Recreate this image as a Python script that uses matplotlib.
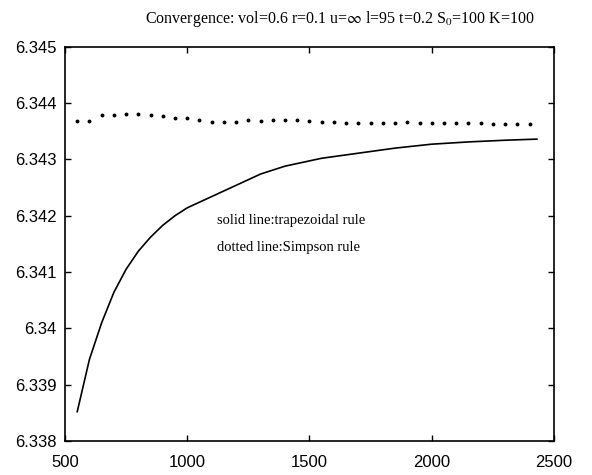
import matplotlib
matplotlib.use("Agg")
import matplotlib.pyplot as plt

# Solid line (trapezoidal rule)
n_trap = [550, 600, 650, 700, 750, 800, 850, 900, 950, 1000, 1100, 1200,
          1300, 1400, 1550, 1700, 1850, 2000, 2150, 2300, 2430]
v_trap = [6.33852, 6.33945, 6.34010, 6.34064, 6.34105, 6.34137, 6.34162,
          6.34183, 6.34200, 6.34214, 6.34234, 6.34254, 6.34274, 6.34288,
          6.34302, 6.34311, 6.34320, 6.34327, 6.34331, 6.34334, 6.34336]

# Dotted line (Simpson rule)
n_simp = list(range(550, 2401, 50))
v_simp = [6.34369, 6.34369, 6.34378, 6.34378, 6.34381, 6.34380, 6.34378,
          6.34377, 6.34374, 6.34373, 6.34370, 6.34366, 6.34366, 6.34367,
          6.34370, 6.34369, 6.34370, 6.34370, 6.34370, 6.34368, 6.34367,
          6.34367, 6.34365, 6.34365, 6.34365, 6.34365, 6.34365, 6.34366,
          6.34365, 6.34365, 6.34365, 6.34364, 6.34364, 6.34364, 6.34363,
          6.34363, 6.34363, 6.34363]

xticks = [500, 1000, 1500, 2000, 2500]
yticks = [6.338, 6.339, 6.340, 6.341, 6.342, 6.343, 6.344, 6.345]
ytick_labels = ["6.338", "6.339", "6.34", "6.341", "6.342", "6.343", "6.344", "6.345"]

plt.rcParams["mathtext.fontset"] = "stix"

fig = plt.figure(figsize=(5.92, 4.75), dpi=100)
ax = fig.add_axes([0.1098, 0.0716, 0.826, 0.830])

ax.plot(n_trap, v_trap, color="black", lw=1.2)
ax.plot(n_simp, v_simp, linestyle="none", marker="o", markersize=1.8,
        color="black")

ax.set_xlim(500, 2500)
ax.set_ylim(6.338, 6.345)
ax.set_xticks(xticks)
ax.set_xticklabels([str(t) for t in xticks], fontname="Liberation Sans", fontsize=12)
ax.set_yticks(yticks)
ax.set_yticklabels(ytick_labels, fontname="Liberation Sans", fontsize=12)
ax.tick_params(direction="in", length=4, width=1, top=True, right=True)
ax.tick_params(axis="x", pad=10)
ax.tick_params(axis="y", pad=6)
for s in ax.spines.values():
    s.set_linewidth(1.2)

ax.text(1120, 6.34192, "solid line:trapezoidal rule", fontname="Liberation Serif",
        fontsize=10.5, va="center", ha="left")
ax.text(1120, 6.34143, "dotted line:Simpson rule", fontname="Liberation Serif",
        fontsize=10.5, va="center", ha="left")

fig.text(0.575, 0.96,
         r"Convergence: vol=0.6 r=0.1 u=$\infty$ l=95 t=0.2 S$_0$=100 K=100",
         fontname="Liberation Serif", fontsize=11.5, ha="center", va="center")

fig.savefig("out.png", dpi=100)
